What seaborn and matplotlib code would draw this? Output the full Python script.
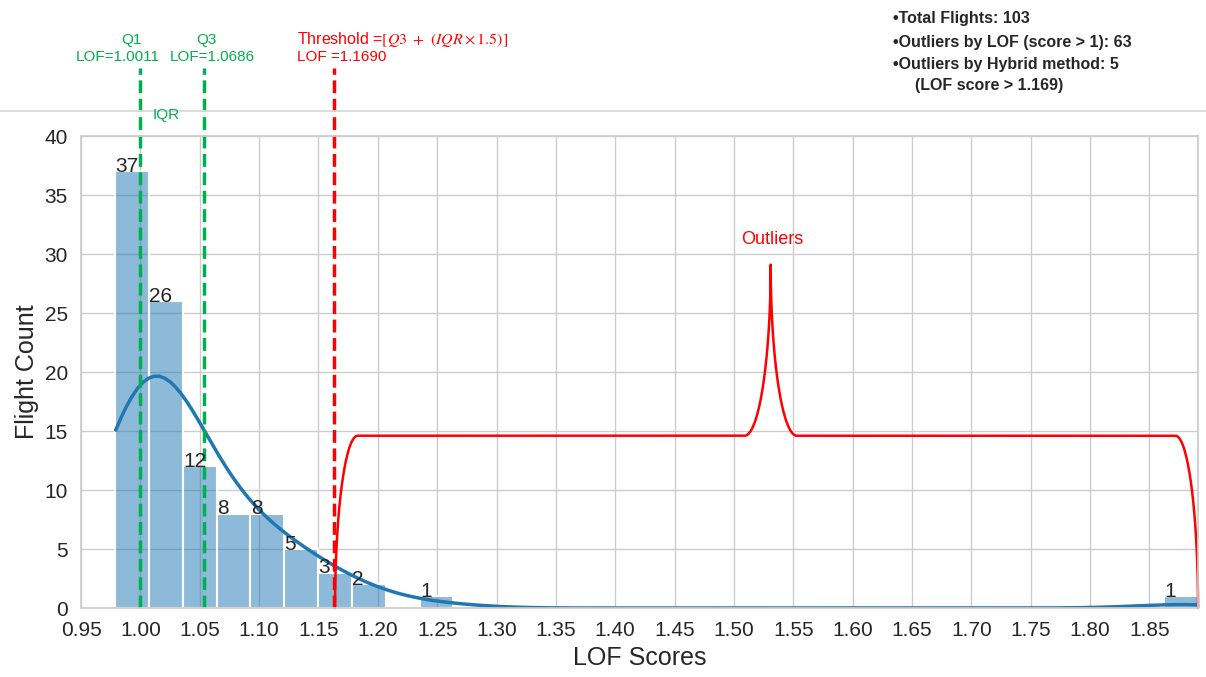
import numpy as np
import matplotlib
matplotlib.use("Agg")
import matplotlib.pyplot as plt
from matplotlib.lines import Line2D
import pandas as pd
import seaborn as sns

# Histograma de LOF
lof_min, lof_max, n_bins = 0.9786, 1.891, 32
bin_counts = [37, 26, 12, 8, 8, 5, 3, 2, 0, 1,
              0, 0, 0, 0, 0, 0, 0, 0, 0, 0,
              0, 0, 0, 0, 0, 0, 0, 0, 0, 0,
              0, 1]

# lineas de referencia (posicion en el eje) y sus etiquetas
q1_pos, q3_pos, thr_pos = 1.000, 1.054, 1.163
q1_val, q3_val, thr_val = 1.0011, 1.0686, 1.1690

# llave de outliers
brace_h, brace_peak, brace_peak_x = 14.6, 29.1, 1.531

info_lines = ["•Total Flights: 103",
              "•Outliers by LOF (score > 1): 63",
              "•Outliers by Hybrid method: 5"]
info_extra = "(LOF score > 1.169)"

edges = np.linspace(lof_min, lof_max, n_bins + 1)
df = pd.DataFrame({'lof': (edges[:-1] + edges[1:]) / 2, 'n': bin_counts})

sns.set_theme(style="whitegrid")
plt.rcParams['font.family'] = ['Liberation Sans', 'DejaVu Sans']
plt.rcParams['mathtext.fontset'] = 'stix'

green, red = '#00B050', '#FF0000'

fig = plt.figure(figsize=(12.06, 6.77), dpi=100)
ax = fig.add_axes([0.0672, 0.1019, 0.9934 - 0.0672, 0.7991 - 0.1019])

sns.histplot(data=df, x='lof', weights='n', bins=n_bins, binrange=(lof_min, lof_max),
             kde=True, stat='count', color='tab:blue', alpha=0.5, edgecolor='white',
             linewidth=1.5, line_kws={'lw': 2.5},
             kde_kws={'bw_adjust': 0.474, 'cut': 0.216}, ax=ax)

# etiquetas de las barras
for p in ax.patches:
    h = p.get_height()
    if h > 0:
        ax.text(p.get_x() + 0.0003, h - 0.4, f"{int(h)}", ha='left', va='bottom',
                fontsize=15, color='#262626')

ax.set_xlim(0.95, lof_max)
ax.set_ylim(0, 40)
xt = np.arange(0.95, 1.86, 0.05)
ax.set_xticks(xt)
ax.set_xticklabels([f"{t:.2f}" for t in xt])
ax.set_yticks(range(0, 41, 5))
ax.tick_params(labelsize=15)
ax.set_xlabel("LOF Scores", fontsize=18)
ax.set_ylabel("Flight Count", fontsize=18)

# lineas verticales
top = 1.144
ax.axvline(q1_pos, ymax=top, color=green, ls='--', lw=2.5, clip_on=False)
ax.axvline(q3_pos, ymax=top, color=green, ls='--', lw=2.5, clip_on=False)
ax.axvline(thr_pos, ymax=top, color=red, ls='--', lw=2.5, clip_on=False)

# llave roja
t = np.linspace(0, np.pi / 2, 60)
rw, sw = 0.019, 0.022
x0, x1 = thr_pos + 0.001, lof_max
rise = brace_peak - (brace_peak - brace_h) * np.cos(t)
bx = np.concatenate([x0 + rw - rw * np.cos(t),
                     brace_peak_x - sw + sw * np.sin(t),
                     (brace_peak_x + sw - sw * np.sin(t))[::-1],
                     x1 - rw + rw * np.sin(t)])
by = np.concatenate([brace_h * np.sin(t), rise, rise[::-1], brace_h * np.cos(t)])
ax.plot(bx, by, color=red, lw=1.8, clip_on=False)
ax.text(brace_peak_x + 0.001, 31.2, "Outliers", color=red, fontsize=13,
        ha='center', va='center')

# textos de arriba
fig.add_artist(Line2D([0, 1], [0.836, 0.836], color='#d9d9d9', lw=1.3,
                      transform=fig.transFigure))
fig.text(0.1086, 0.941, "Q1", color=green, fontsize=11, ha='center', va='center')
fig.text(0.098, 0.916, f"LOF={q1_val:.4f}", color=green, fontsize=11, ha='center', va='center')
fig.text(0.171, 0.941, "Q3", color=green, fontsize=11, ha='center', va='center')
fig.text(0.176, 0.916, f"LOF={q3_val:.4f}", color=green, fontsize=11, ha='center', va='center')
fig.text(0.138, 0.830, "IQR", color=green, fontsize=11, ha='center', va='center')
fig.text(0.246, 0.941, r"Threshold =$[Q3\ +\ (IQR \times 1.5)]$", color=red,
         fontsize=11.5, ha='left', va='center')
fig.text(0.246, 0.916, f"LOF ={thr_val:.4f}", color=red, fontsize=11, ha='left', va='center')

for yy, line in zip([0.972, 0.937, 0.904], info_lines):
    fig.text(0.7405, yy, line, fontsize=11.5, fontweight='bold', ha='left', va='center')
fig.text(0.759, 0.873, info_extra, fontsize=11.5, fontweight='bold', ha='left', va='center')

fig.savefig("out.png", dpi=100)
